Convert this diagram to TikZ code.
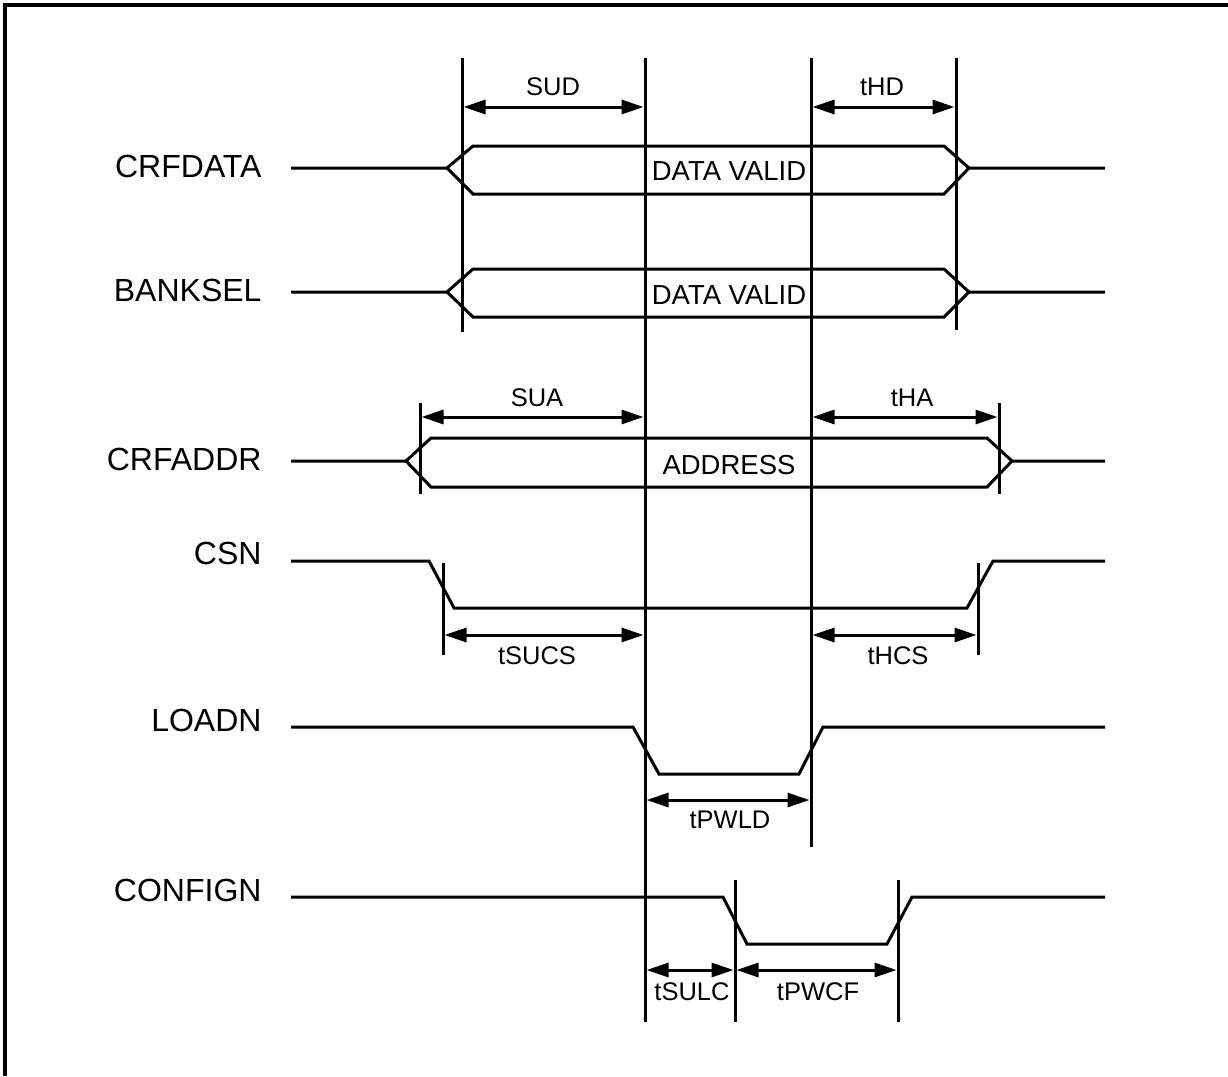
\documentclass[tikz,border=0pt]{standalone}
\usepackage{fontspec}
\setmainfont{Liberation Sans}
\usetikzlibrary{arrows.meta}
\begin{document}
\begin{tikzpicture}[x=1pt,y=-1pt, line width=3pt, line join=miter,
  sig/.style={font=\fontsize{32}{32}\selectfont, anchor=east, inner sep=0pt},
  tlab/.style={font=\fontsize{25.5}{25.5}\selectfont, inner sep=0pt},
  blab/.style={font=\fontsize{27.5}{27.5}\selectfont, inner sep=0pt},
  dimarrow/.style={{Triangle[length=22pt,width=14pt]}-{Triangle[length=22pt,width=14pt]}, line width=3pt},
  wave/.style={line width=3pt},
  marker/.style={line width=3pt}]
\useasboundingbox (0,0) rectangle (1228,1076);
% frame
\draw[line width=3.5pt] (5,1076) -- (5,5) -- (1228,5);

% signal names
\node[sig] (nCRFDATA) at (263,166) {CRFDATA};
\node[sig] (nBANKSEL) at (263,290) {BANKSEL};
\node[sig] (nCRFADDR) at (263,459) {CRFADDR};
\node[sig] (nCSN) at (263,553) {CSN};
\node[sig] (nLOADN) at (263,720) {LOADN};
\node[sig] (nCONFIGN) at (263,890) {CONFIGN};

% waveforms
\draw[wave] (291,168) -- (447,168) -- (473,146) -- (944,146) -- (969,168) -- (1105,168);
\draw[wave] (447,168) -- (473,194) -- (944,194) -- (969,168);
\draw[wave] (291,292) -- (447,292) -- (473,269) -- (944,269) -- (969,292) -- (1105,292);
\draw[wave] (447,292) -- (473,317) -- (944,317) -- (969,292);
\draw[wave] (291,461) -- (406,461) -- (431,438) -- (987,438) -- (1012,461) -- (1105,461);
\draw[wave] (406,461) -- (431,487) -- (987,487) -- (1012,461);
\draw[wave] (291,561) -- (429,561) -- (454,608) -- (967,608) -- (993,561) -- (1105,561);
\draw[wave] (291,727) -- (633,727) -- (659,774) -- (799,774) -- (823,727) -- (1105,727);
\draw[wave] (291,897) -- (723,897) -- (747,944) -- (887,944) -- (912,897) -- (1105,897);

% bus labels
\node[blab] (dv1) at (729,171) {DATA VALID};
\node[blab] (dv2) at (729,295) {DATA VALID};
\node[blab] (addr) at (729,465) {ADDRESS};

% marker lines
\coordinate (m1t) at (462,58);  \coordinate (m1b) at (462,332);
\coordinate (m2t) at (645,58);  \coordinate (m2b) at (645,1022);
\coordinate (m3t) at (811,58);  \coordinate (m3b) at (811,847);
\coordinate (m4t) at (956,58);  \coordinate (m4b) at (956,330);
\coordinate (m5t) at (420,403); \coordinate (m5b) at (420,494);
\coordinate (m6t) at (999,403); \coordinate (m6b) at (999,494);
\coordinate (m7t) at (443,563); \coordinate (m7b) at (443,655);
\coordinate (m8t) at (978,563); \coordinate (m8b) at (978,655);
\coordinate (m9t) at (735,880); \coordinate (m9b) at (735,1022);
\coordinate (m10t) at (898,880); \coordinate (m10b) at (898,1022);
\foreach \i in {1,...,10} {\draw[marker] (m\i t) -- (m\i b);}

% dimension arrows
\coordinate (sudA) at (463.5,107); \coordinate (sudB) at (643.5,107);
\coordinate (thdA) at (812.5,107); \coordinate (thdB) at (954.5,107);
\coordinate (suaA) at (421.5,417); \coordinate (suaB) at (643.5,417);
\coordinate (thaA) at (812.5,417); \coordinate (thaB) at (997.5,417);
\coordinate (sucsA) at (444.5,635); \coordinate (sucsB) at (643.5,635);
\coordinate (hcsA) at (812.5,635); \coordinate (hcsB) at (976.5,635);
\coordinate (pwldA) at (646.5,800); \coordinate (pwldB) at (809.5,800);
\coordinate (sulcA) at (646.5,970); \coordinate (sulcB) at (733.5,970);
\coordinate (pwcfA) at (736.5,970); \coordinate (pwcfB) at (896.5,970);
\draw[dimarrow] (sudA) -- (sudB);
\draw[dimarrow] (thdA) -- (thdB);
\draw[dimarrow] (suaA) -- (suaB);
\draw[dimarrow] (thaA) -- (thaB);
\draw[dimarrow] (sucsA) -- (sucsB);
\draw[dimarrow] (hcsA) -- (hcsB);
\draw[dimarrow] (pwldA) -- (pwldB);
\draw[dimarrow] (sulcA) -- (sulcB);
\draw[dimarrow] (pwcfA) -- (pwcfB);

% timing labels
\node[tlab] (lSUD) at (553,87) {SUD};
\node[tlab] (lTHD) at (882,87) {tHD};
\node[tlab] (lSUA) at (537,398) {SUA};
\node[tlab] (lTHA) at (912,398) {tHA};
\node[tlab] (lSUCS) at (537,656) {tSUCS};
\node[tlab] (lHCS) at (898,656) {tHCS};
\node[tlab] (lPWLD) at (730,820) {tPWLD};
\node[tlab] (lSULC) at (692,992) {tSULC};
\node[tlab] (lPWCF) at (818,992) {tPWCF};
\end{tikzpicture}
\end{document}
